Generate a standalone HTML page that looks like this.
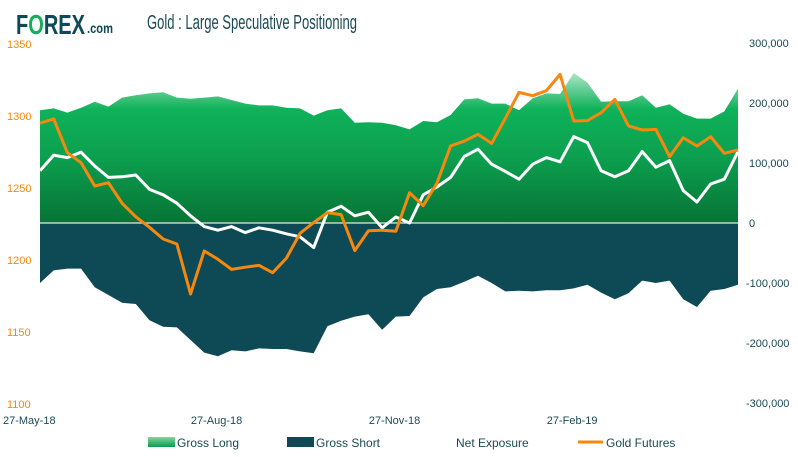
<!DOCTYPE html>
<html><head><meta charset="utf-8"><style>
body{margin:0;background:#fff;}
svg{display:block;font-family:"Liberation Sans",sans-serif;}
</style></head><body>
<svg id="chart" width="798" height="457" viewBox="0 0 798 457" xmlns="http://www.w3.org/2000/svg">
<defs>
<linearGradient id="gl" gradientUnits="userSpaceOnUse" x1="0" y1="60" x2="0" y2="223">
<stop offset="0" stop-color="#e6f7ec"/><stop offset="0.3" stop-color="#0fb25a"/><stop offset="0.6" stop-color="#0c9f4f"/><stop offset="1" stop-color="#077336"/>
</linearGradient>
<linearGradient id="lg" x1="0" y1="0" x2="0" y2="1"><stop offset="0" stop-color="#7ed9a0"/><stop offset="1" stop-color="#0a9a4c"/></linearGradient>
</defs>
<g>
<text x="16" y="34" font-size="28" font-weight="bold" fill="#0d4a55" textLength="69" lengthAdjust="spacingAndGlyphs">F<tspan fill="#12b05a">O</tspan>REX</text>
<text x="87" y="33" font-size="14" font-weight="bold" fill="#0d4a55" textLength="26" lengthAdjust="spacingAndGlyphs">.com</text>
</g>
<text x="147" y="29" font-size="20" fill="#1a4a55" textLength="210" lengthAdjust="spacingAndGlyphs">Gold : Large Speculative Positioning</text>
<g id="plot"></g>
<g id="axes"></g>
<g>
<rect x="148" y="437" width="27" height="10" fill="url(#lg)"/>
<text x="177" y="447" font-size="12" fill="#1a4a55">Gross Long</text>
<rect x="287" y="437" width="27" height="10" fill="#0d4a55"/>
<text x="316" y="447" font-size="12" fill="#1a4a55">Gross Short</text>
<line x1="428" y1="442" x2="453" y2="442" stroke="#fff" stroke-width="3"/>
<text x="456" y="447" font-size="12" fill="#1a4a55">Net Exposure</text>
<line x1="578" y1="442" x2="603" y2="442" stroke="#f7880f" stroke-width="3"/>
<text x="606" y="447" font-size="12" fill="#1a4a55">Gold Futures</text>
</g>
</svg>
<script>
const grossLong=[188,191,184,192,202,194,209,213,216,218,209,207,209,211,205,199,196,196,192,191,179,188,191,167,168,167,163,156,170,168,180,206,208,199,199,188,208,216,215,250,234,202,203,203,213,192,198,182,174,174,186,224];
const grossShort=[-100,-79,-76,-76,-107,-120,-133,-135,-162,-173,-174,-195,-216,-222,-212,-214,-209,-210,-210,-214,-217,-172,-163,-156,-152,-178,-156,-155,-124,-110,-107,-98,-88,-100,-114,-113,-114,-112,-112,-109,-103,-116,-127,-117,-96,-100,-96,-127,-140,-113,-110,-103];
const netExposure=[87,113,109,118,95,76,77,80,56,47,33,12,-6,-12,-6,-16,-8,-12,-18,-23,-41,18,28,12,18,-8,10,0,47,60,76,111,123,98,86,73,98,109,102,144,134,87,77,87,119,93,104,54,35,65,73,119];
const goldFutures=[1295,1298,1274.5,1267.6,1251.4,1253.7,1239.4,1230,1222.7,1214.6,1211.1,1176.4,1206.3,1200.5,1193.5,1195,1196.3,1191.2,1201.2,1218.5,1226,1232.9,1231.5,1206.5,1220.3,1220.7,1220,1246.7,1237.7,1253.3,1279.2,1282.6,1287.3,1281,1298.4,1316.4,1314.1,1317.6,1328.9,1296.5,1296.8,1302.3,1311.6,1293.1,1290.3,1290.7,1271.8,1284.9,1279.2,1285.6,1274.1,1276.4];
const xLabels=["27-May-18","27-Aug-18","27-Nov-18","27-Feb-19"];
const xLabelIdx=[0,13,26,39];
const leftTicks=[1100,1150,1200,1250,1300,1350];
const rightTicks=[-300,-200,-100,0,100,200,300];

const X0=40,X1=738,N=grossLong.length;
const x=i=>X0+(X1-X0)*i/(N-1);
const yR=v=>223-v*0.6;
const yL=v=>44+(1350-v)/50*72;
const NS="http://www.w3.org/2000/svg";
const plot=document.getElementById('plot'),axes=document.getElementById('axes');
function mk(t,a,p){const e=document.createElementNS(NS,t);for(const k in a)e.setAttribute(k,a[k]);(p||plot).appendChild(e);return e;}
function area(arr){let d=`M${x(0)},${yR(0)}`;arr.forEach((v,i)=>d+=`L${x(i)},${yR(v)}`);d+=`L${x(N-1)},${yR(0)}Z`;return d;}
function line(arr,f){return arr.map((v,i)=>(i?'L':'M')+x(i)+','+f(v)).join('');}
let e=mk('path',{d:area(grossLong),fill:'url(#gl)'});


e=mk('path',{d:area(grossShort),fill:'#0d4a55'});


e=mk('line',{x1:X0,x2:X1,y1:yR(0),y2:yR(0),stroke:'#e8e8e8','stroke-width':1.2});


e=mk('path',{d:line(netExposure,yR),fill:'none',stroke:'#fff','stroke-width':3,'stroke-linejoin':'round'});


e=mk('path',{d:line(goldFutures,yL),fill:'none',stroke:'#f7880f','stroke-width':3,'stroke-linejoin':'round'});


leftTicks.forEach(v=>{const t=mk('text',{x:7,y:yL(v)+4,'font-size':11,fill:'#f7880f'},axes);t.textContent=v;

});
rightTicks.forEach(v=>{const t=mk('text',{x:v<0?746:749,y:yR(v)+4,'font-size':11,fill:'#1a4a55'},axes);t.textContent=v===0?'0':(v*1000).toLocaleString('en-US');

});
xLabels.forEach((s,k)=>{const i=xLabelIdx[k];const t=mk('text',{x:k===0?3:x(i)-27,y:424,'font-size':11,fill:'#1a4a55'},axes);t.textContent=s;

});
</script>
</body></html>
